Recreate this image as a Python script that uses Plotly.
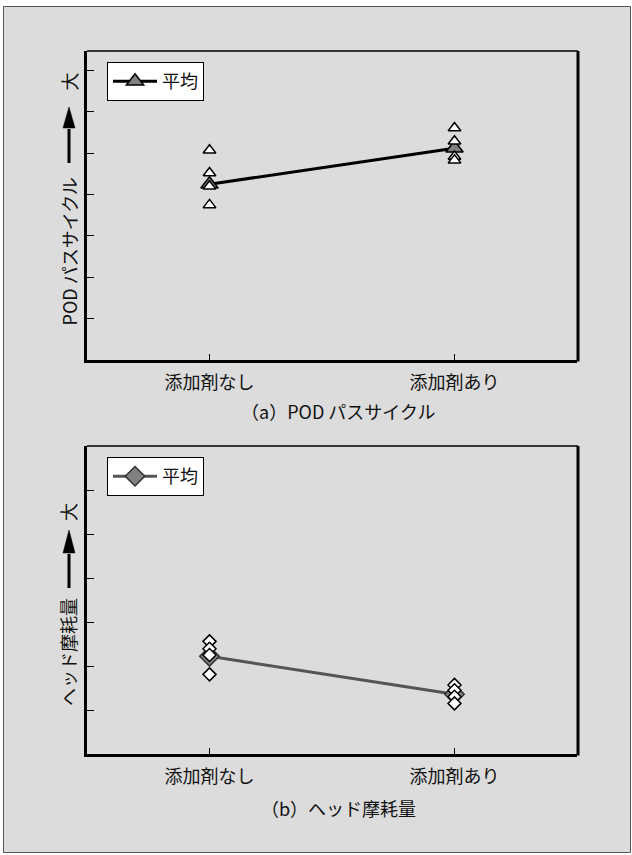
import plotly.graph_objects as go

# ---- data -------------------------------------------------------------
categories = ["添加剤なし", "添加剤あり"]

# (a) POD pass cycles: individual samples per condition and the mean
pod_none = [5.07, 4.52, 4.20, 3.75]
pod_with = [5.61, 5.29, 4.92, 4.83]
pod_mean = [4.25, 5.12]

# (b) head wear: individual samples per condition and the mean
wear_none = [2.56, 2.39, 2.25, 1.81]
wear_with = [1.57, 1.45, 1.30, 1.15]
wear_mean = [2.22, 1.36]

pod_ticks = [1, 2, 3, 4, 5, 6, 7]
wear_ticks = [1, 2, 3, 4, 5, 6]

legend_label = "平均"
pod_caption = "（a）POD パスサイクル"
wear_caption = "（b）ヘッド摩耗量"
pod_ytitle = "POD パスサイクル"
wear_ytitle = "ヘッド摩耗量"
big_label = "大"

# ---- layout helpers ---------------------------------------------------
W, H = 632, 855
FONT = "Noto Sans CJK JP"
TXT = "#111111"


def fx(x):
    return x / W


def fy(y):
    return 1 - y / H


fig = go.Figure()

# panel (a)
fig.add_trace(go.Scatter(
    x=categories, y=pod_mean, mode="lines+markers", name=legend_label,
    line=dict(color="#000000", width=3),
    marker=dict(symbol="triangle-up", size=15, color="#808080",
                line=dict(color="#000000", width=1.5)),
    xaxis="x", yaxis="y", legend="legend",
))
fig.add_trace(go.Scatter(
    x=[categories[0]] * len(pod_none) + [categories[1]] * len(pod_with),
    y=pod_none + pod_with, mode="markers", showlegend=False,
    marker=dict(symbol="triangle-up", size=11, color="#ffffff",
                line=dict(color="#000000", width=1.5)),
    xaxis="x", yaxis="y",
))

# panel (b)
fig.add_trace(go.Scatter(
    x=categories, y=wear_mean, mode="lines+markers", name=legend_label,
    line=dict(color="#555555", width=3),
    marker=dict(symbol="diamond", size=15, color="#808080",
                line=dict(color="#333333", width=1.5)),
    xaxis="x2", yaxis="y2", legend="legend2",
))
fig.add_trace(go.Scatter(
    x=[categories[0]] * len(wear_none) + [categories[1]] * len(wear_with),
    y=wear_none + wear_with, mode="markers", showlegend=False,
    marker=dict(symbol="diamond", size=10, color="#ffffff",
                line=dict(color="#000000", width=1.5)),
    xaxis="x2", yaxis="y2",
))

xdom = [fx(87), fx(577)]
dom_a = [fy(360), fy(51)]
dom_b = [fy(754), fy(446)]

xcommon = dict(
    type="category", range=[-0.5, 1.5], showline=True, linewidth=3,
    linecolor="#000000", ticks="inside", ticklen=6, tickwidth=1.2,
    tickcolor="#000000", showgrid=False, zeroline=False, fixedrange=True,
    tickfont=dict(family=FONT, size=18, color=TXT),
    ticklabelstandoff=4, domain=xdom,
)
ycommon = dict(
    showline=True, linewidth=3, linecolor="#000000", ticks="inside",
    ticklen=7, tickwidth=1.2, tickcolor="#000000", showticklabels=False,
    showgrid=False, zeroline=False, fixedrange=True,
)

legend_common = dict(
    xanchor="left", yanchor="top", bgcolor="#ffffff",
    bordercolor="#000000", borderwidth=1,
    font=dict(family=FONT, size=18, color=TXT),
    itemwidth=44, tracegroupgap=0,
)

fig.update_layout(
    width=W, height=H, autosize=False,
    margin=dict(l=0, r=0, t=0, b=0),
    paper_bgcolor="#ffffff", plot_bgcolor="#ffffff",
    xaxis=dict(xcommon, anchor="y"),
    yaxis=dict(ycommon, anchor="x", domain=dom_a, range=[0, 7.47],
               tickvals=pod_ticks),
    xaxis2=dict(xcommon, anchor="y2"),
    yaxis2=dict(ycommon, anchor="x2", domain=dom_b, range=[0, 7.0],
                tickvals=wear_ticks),
    legend=dict(legend_common, x=fx(107), y=fy(62)),
    legend2=dict(legend_common, x=fx(107), y=fy(457)),
    showlegend=True,
)

shapes = []
# gray page panel with thin frame
shapes.append(dict(type="rect", xref="paper", yref="paper",
                   x0=fx(3.5), x1=fx(630.5), y0=fy(852.5), y1=fy(6.5),
                   fillcolor="#dcdcdc", line=dict(color="#555555", width=1),
                   layer="below"))
# top and right edges of both plot boxes
for top, bot in ((51, 360), (446, 754)):
    shapes.append(dict(type="line", xref="paper", yref="paper",
                       x0=fx(87), x1=fx(578), y0=fy(top), y1=fy(top),
                       line=dict(color="#000000", width=1.5)))
    shapes.append(dict(type="line", xref="paper", yref="paper",
                       x0=fx(578), x1=fx(578), y0=fy(top), y1=fy(bot + 1.5),
                       line=dict(color="#000000", width=3)))

# upward arrows in the y titles (shaft + filled head)
for tail, base, tip in ((163, 128, 107), (588, 553, 530)):
    xc = 69
    shapes.append(dict(type="line", xref="paper", yref="paper",
                       x0=fx(xc), x1=fx(xc), y0=fy(tail), y1=fy(base + 1),
                       line=dict(color="#000000", width=3)))
    shapes.append(dict(type="path", xref="paper", yref="paper",
                       path=f"M {fx(xc - 6)} {fy(base)} L {fx(xc + 6)} {fy(base)} "
                            f"L {fx(xc)} {fy(tip)} Z",
                       fillcolor="#000000", line=dict(color="#000000", width=0.5)))
fig.update_layout(shapes=shapes)

annotations = []
for text, x, y in ((pod_ytitle, 68, 251.5), (wear_ytitle, 68, 652)):
    annotations.append(dict(text=text, x=fx(x), y=fy(y), xref="paper", yref="paper",
                            showarrow=False, textangle=-90, xanchor="center",
                            yanchor="middle",
                            font=dict(family=FONT, size=18, color=TXT)))
for y in (81.5, 512):
    annotations.append(dict(text=big_label, x=fx(68), y=fy(y), xref="paper",
                            yref="paper", showarrow=False, textangle=-90,
                            xanchor="center", yanchor="middle",
                            font=dict(family=FONT, size=18, color=TXT)))
for text, y in ((pod_caption, 410.5), (wear_caption, 807.5)):
    annotations.append(dict(text=text, x=fx(338), y=fy(y), xref="paper", yref="paper",
                            showarrow=False, xanchor="center", yanchor="middle",
                            font=dict(family=FONT, size=18, color=TXT)))
fig.update_layout(annotations=annotations)

fig.write_html("out.html")
